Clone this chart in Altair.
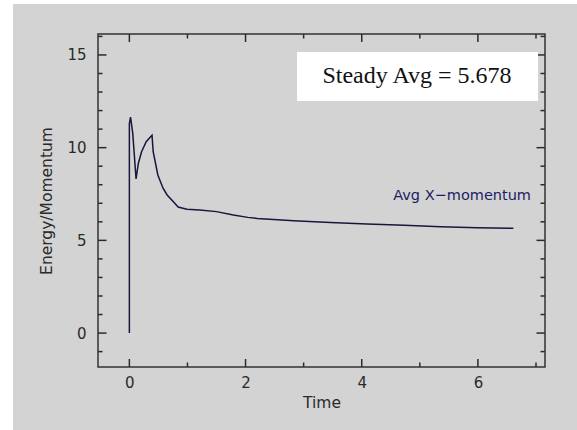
import altair as alt
import pandas as pd

# ---- data ----
time = [0.0, 0.0, 0.02, 0.058, 0.115, 0.155, 0.21, 0.29, 0.37, 0.39, 0.41, 0.49,
        0.58, 0.65, 0.73, 0.84, 0.99, 1.21, 1.5, 1.79, 2.04, 2.2, 2.83, 3.46,
        4.09, 4.73, 5.36, 5.99, 6.61]
momentum = [0.0, 11.3, 11.65, 10.78, 8.31, 9.16, 9.78, 10.32, 10.6, 10.67, 9.78, 8.53,
            7.81, 7.45, 7.18, 6.8, 6.68, 6.64, 6.55, 6.37, 6.24, 6.18, 6.06, 5.97,
            5.88, 5.81, 5.74, 5.68, 5.65]
x_major = [0, 2, 4, 6]
x_minor = [1, 3, 5, 7]
y_major = [0, 5, 10, 15]
y_minor = [-1, 1, 2, 3, 4, 6, 7, 8, 9, 11, 12, 13, 14, 16]
annotation = "Steady Avg = 5.678"
series_label = "Avg X\u2212momentum"

W, H = 447, 333
XD = [-0.54, 7.155]
YD = [-1.83, 16.13]
FONT = "DejaVu Sans"
INK = "#2a2a2a"
GRAY = "#d3d3d3"

xs = alt.Scale(domain=XD, nice=False, zero=False)
ys = alt.Scale(domain=YD, nice=False, zero=False)

df = pd.DataFrame({"t": time, "m": momentum, "i": list(range(len(time)))})
one = pd.DataFrame({"a": [0]})

bg = alt.Chart(one).mark_rect(color=GRAY).encode(
    x=alt.value(-85), x2=alt.value(W + 40), y=alt.value(-30), y2=alt.value(H + 70)
)

line = alt.Chart(df).mark_line(color="#16163e", strokeWidth=1.5).encode(
    x=alt.X("t:Q", scale=xs, axis=alt.Axis(
        values=x_major, format="d", ticks=False, domain=False, grid=False, labelFont=FONT,
        labelFontSize=15, labelColor=INK, labelPadding=8, title="Time",
        titleFont=FONT, titleFontSize=15.5, titleFontWeight="normal", titleColor=INK,
        titleX=W / 2, titleY=35, titleBaseline="middle", zindex=1)),
    y=alt.Y("m:Q", scale=ys, axis=alt.Axis(
        values=y_major, format="d", ticks=False, domain=False, grid=False, labelFont=FONT,
        labelFontSize=15, labelColor=INK, labelPadding=12, title="Energy/Momentum",
        titleFont=FONT, titleFontSize=15.5, titleFontWeight="normal", titleColor=INK,
        titleX=-52, titleY=H / 2, titleBaseline="middle", titleAngle=-90, zindex=1)),
    order="i:Q",
)


def xticks(vals, length):
    d = pd.DataFrame({"v": vals})
    bot = alt.Chart(d).mark_rule(color=INK, strokeWidth=1.5).encode(
        x=alt.X("v:Q", scale=xs), y=alt.value(H), y2=alt.value(H - length))
    top = alt.Chart(d).mark_rule(color=INK, strokeWidth=1.5).encode(
        x=alt.X("v:Q", scale=xs), y=alt.value(0), y2=alt.value(length))
    return [bot, top]


def yticks(vals, length):
    d = pd.DataFrame({"v": vals})
    left = alt.Chart(d).mark_rule(color=INK, strokeWidth=1.5).encode(
        y=alt.Y("v:Q", scale=ys), x=alt.value(0), x2=alt.value(length))
    right = alt.Chart(d).mark_rule(color=INK, strokeWidth=1.5).encode(
        y=alt.Y("v:Q", scale=ys), x=alt.value(W), x2=alt.value(W - length))
    return [left, right]


ticks = xticks(x_major, 8) + xticks(x_minor, 4.5) + yticks(y_major, 8.5) + yticks(y_minor, 4.5)

frame = alt.Chart(one).mark_rect(filled=False, stroke="#333333", strokeWidth=1.5).encode(
    x=alt.value(0), x2=alt.value(W), y=alt.value(0), y2=alt.value(H)
)

box = alt.Chart(one).mark_rect(color="white").encode(
    x=alt.value(199), x2=alt.value(440), y=alt.value(18), y2=alt.value(67)
)
box_text = alt.Chart(pd.DataFrame({"s": [annotation]})).mark_text(
    font="Liberation Serif", fontSize=24, color="#111111", align="center", baseline="middle"
).encode(text="s:N", x=alt.value(319), y=alt.value(42))

label = alt.Chart(pd.DataFrame({"s": [series_label]})).mark_text(
    font=FONT, fontSize=14.5, color="#1c1c66", align="right", baseline="middle"
).encode(text="s:N", x=alt.value(433), y=alt.value(162))

chart = alt.layer(bg, *ticks, line, frame, box, box_text, label).properties(
    width=W, height=H,
    autosize=alt.AutoSizeParams(type="none"),
    padding={"left": 98, "top": 34, "right": 32, "bottom": 63},
    background="white",
).configure_view(stroke=None)

chart.save("out.html", embed_options={"renderer": "svg", "actions": False})
